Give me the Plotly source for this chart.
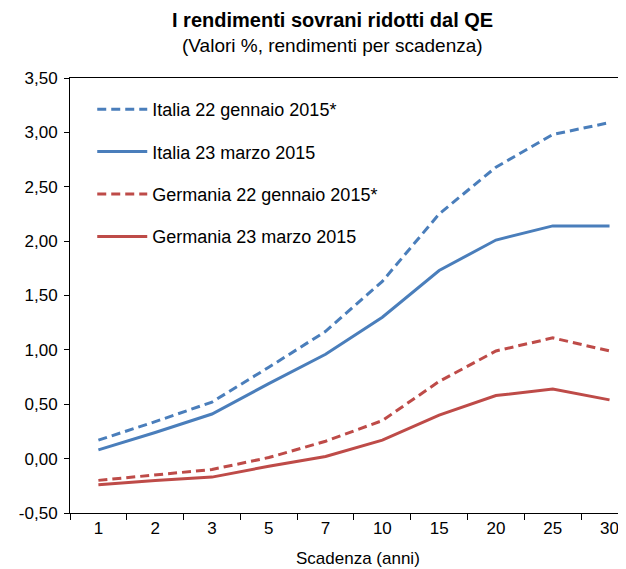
import plotly.graph_objects as go

scadenze = ["1", "2", "3", "5", "7", "10", "15", "20", "25", "30"]
italia_gen = [0.17, 0.34, 0.52, 0.84, 1.17, 1.63, 2.25, 2.68, 2.98, 3.09]
italia_mar = [0.08, 0.24, 0.41, 0.69, 0.96, 1.30, 1.73, 2.01, 2.14, 2.14]
germania_gen = [-0.20, -0.15, -0.10, 0.01, 0.16, 0.35, 0.71, 0.99, 1.11, 0.99]
germania_mar = [-0.24, -0.20, -0.17, -0.07, 0.02, 0.17, 0.40, 0.58, 0.64, 0.54]

y_ticks = [-0.5, 0.0, 0.5, 1.0, 1.5, 2.0, 2.5, 3.0, 3.5]
y_labels = ["-0,50", "0,00", "0,50", "1,00", "1,50", "2,00", "2,50", "3,00", "3,50"]

BLUE = "#4A7EBB"
RED = "#BE4B48"
FONT = "Liberation Sans, Arial, sans-serif"

# the page body adds an 8px margin, so the figure is drawn 8px smaller
W, H = 618, 561
ML, MT, MB = 62, 70, 56
PH = H - MT - MB
PW = W - ML

series = [
    ("Italia 22 gennaio 2015*", italia_gen, BLUE, "9px,5px"),
    ("Italia 23 marzo 2015", italia_mar, BLUE, "solid"),
    ("Germania 22 gennaio 2015*", germania_gen, RED, "9px,5px"),
    ("Germania 23 marzo 2015", germania_mar, RED, "solid"),
]

fig = go.Figure()
for i, (name, vals, color, dash) in enumerate(series):
    fig.add_trace(go.Scatter(
        x=scadenze, y=vals, name=name, mode="lines",
        line=dict(color=color, width=3, dash=dash),
        legendgroup=f"g{i}",
    ))

fig.update_layout(
    width=W, height=H,
    margin=dict(l=ML, r=0, t=MT, b=MB),
    paper_bgcolor="white", plot_bgcolor="white",
    font=dict(family=FONT, size=17, color="black"),
    showlegend=True,
    legend=dict(
        x=0.04, y=1 - 13 / PH, xanchor="left", yanchor="top",
        bgcolor="rgba(0,0,0,0)", tracegroupgap=16,
        traceorder="grouped",
        font=dict(family=FONT, size=18, color="black"),
        itemwidth=50,
    ),
)

fig.update_xaxes(
    type="category", range=[-0.5, 9.29],
    showline=True, linecolor="black", linewidth=1, mirror=True,
    ticks="outside", tickson="boundaries", ticklen=6, tickcolor="black",
    showgrid=False, zeroline=False,
    tickfont=dict(size=17),
)
fig.update_yaxes(
    range=[-0.5, 3.5], tickvals=y_ticks, ticktext=y_labels,
    showline=True, linecolor="black", linewidth=1,
    ticks="outside", ticklen=5, tickcolor="black", ticklabelstandoff=3,
    showgrid=False, zeroline=False,
    tickfont=dict(size=17),
)

cx = (324 - ML) / PW
fig.add_annotation(
    text="<b>I rendimenti sovrani ridotti dal QE</b>",
    xref="paper", yref="paper", x=cx, y=1 + 58 / PH,
    showarrow=False, font=dict(size=20), xanchor="center", yanchor="middle",
)
fig.add_annotation(
    text="(Valori %, rendimenti per scadenza)",
    xref="paper", yref="paper", x=cx, y=1 + 33 / PH,
    showarrow=False, font=dict(size=19), xanchor="center", yanchor="middle",
)
fig.add_annotation(
    text="Scadenza (anni)",
    xref="paper", yref="paper", x=(350 - ML) / PW, y=-45 / PH,
    showarrow=False, font=dict(size=17), xanchor="center", yanchor="middle",
)

fig.write_html("out.html")
